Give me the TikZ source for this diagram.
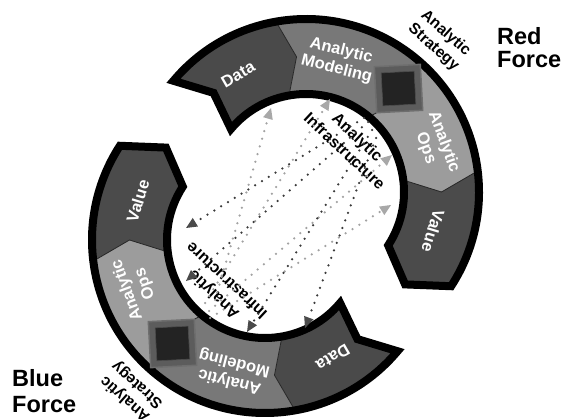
\documentclass[tikz,border=0pt]{standalone}
\usepackage{fontspec}
\setmainfont{Liberation Sans}
\usetikzlibrary{arrows.meta}

% segment and flow colours
\definecolor{datagray}{HTML}{4A4A4A}
\definecolor{modelgray}{HTML}{787878}
\definecolor{opsgray}{HTML}{9C9C9C}
\definecolor{valuegray}{HTML}{4B4B4B}
\definecolor{stratrim}{HTML}{5C5C5C}
\definecolor{stratedge}{HTML}{6E6E6E}
\definecolor{stratcore}{HTML}{232323}
\definecolor{dotdark}{HTML}{3A3A3A}
\definecolor{dotlight}{HTML}{A2A2A2}
\definecolor{tipdark}{HTML}{4A4A4A}
\definecolor{tiplight}{HTML}{A8A8A8}

% ring radii (centre line of the black border)
\newcommand\ringIn{98}
\newcommand\ringOut{173}
\newcommand\ringMid{135.5}

\tikzset{
  seglabel/.style={text=white, font=\fontsize{16.5}{19}\selectfont\bfseries,
    align=center, inner sep=0pt, transform shape},
  sidelabel/.style={text=black, font=\fontsize{15.5}{18.5}\selectfont\bfseries,
    align=center, inner sep=0pt, transform shape},
  infralabel/.style={text=black, font=\fontsize{16}{19}\selectfont\bfseries,
    align=center, inner sep=0pt, transform shape},
  forcelabel/.style={text=black, font=\fontsize{23.5}{24}\selectfont\bfseries,
    inner sep=0pt, anchor=base west},
  segline/.style={draw=black!85, line width=0.8pt},
  ringborder/.style={draw=black, line width=8pt, line join=miter, miter limit=6},
  stratouter/.style={draw=stratedge, line width=1.5pt, fill=stratrim,
    minimum size=46pt, inner sep=0pt, rotate=3, transform shape},
  stratinner/.style={draw=black!70, line width=0.6pt, fill=stratcore,
    minimum size=33pt, inner sep=0pt, rotate=3, transform shape},
  darkflow/.style={draw=dotdark, line width=2.5pt, line cap=round,
    dash pattern=on 0pt off 8pt,
    -{Triangle[length=11pt,width=10pt,line width=0pt,color=tipdark]}},
  lightflow/.style={draw=dotlight, line width=2.5pt, line cap=round,
    dash pattern=on 0pt off 8pt,
    -{Triangle[length=11pt,width=10pt,line width=0pt,color=tiplight]}},
  forcering/.pic={
    % segment fills, clockwise from the swallow-tail end to the arrow head
    \fill[datagray] (140:\ringOut) arc[start angle=140,end angle=100,radius=\ringOut]
      -- (94:\ringMid) -- (100:\ringIn) arc[start angle=100,end angle=140,radius=\ringIn]
      -- (133:\ringMid) -- cycle;
    \fill[modelgray] (100:\ringOut) arc[start angle=100,end angle=50,radius=\ringOut]
      -- (44:\ringMid) -- (50:\ringIn) arc[start angle=50,end angle=100,radius=\ringIn]
      -- (94:\ringMid) -- cycle;
    \fill[opsgray] (50:\ringOut) arc[start angle=50,end angle=7,radius=\ringOut]
      -- (0:\ringMid) -- (7:\ringIn) arc[start angle=7,end angle=50,radius=\ringIn]
      -- (44:\ringMid) -- cycle;
    \fill[valuegray] (7:\ringOut) arc[start angle=7,end angle=-33,radius=\ringOut]
      -- (-43:\ringMid) -- (-33:\ringIn) arc[start angle=-33,end angle=7,radius=\ringIn]
      -- (0:\ringMid) -- cycle;
    % chevron seams between segments
    \draw[segline] (100:\ringOut) -- (94:\ringMid) -- (100:\ringIn);
    \draw[segline] (50:\ringOut) -- (44:\ringMid) -- (50:\ringIn);
    \draw[segline] (7:\ringOut) -- (0:\ringMid) -- (7:\ringIn);
    % heavy outline of the whole arrow ring
    \draw[ringborder] (140:\ringOut) arc[start angle=140,end angle=-33,radius=\ringOut]
      -- (-43:\ringMid) -- (-33:\ringIn) arc[start angle=-33,end angle=140,radius=\ringIn]
      -- (133:\ringMid) -- cycle;
    % strategy marker
    \node[stratouter] (-strat) at (48.2:138.8) {};
    \node[stratinner] (-stratcore) at (48.2:138.8) {};
    % segment names
    \node[seglabel, rotate=30] (-data) at (120:136) {Data};
    \node[seglabel, rotate=-14] (-model) at (76:136) {Analytic\\Modeling};
    \node[seglabel, rotate=-70] (-ops) at (20:137) {Analytic\\Ops};
    \node[seglabel, rotate=-107] (-value) at (-17:133) {Value};
    \node[sidelabel, rotate=-41.4] (-strategy) at (48.6:202) {Analytic\\Strategy};
    \node[infralabel, rotate=-43] (-infra) at (46.8:66) {Analytic\\Infrastructure};
  }
}

\begin{document}
\begin{tikzpicture}[x=1pt,y=1pt]
\useasboundingbox (0,0) rectangle (562,418);

% the two opposing rings
\pic (red) at (306,226) {forcering};
\pic[rotate=180] (blue) at (265,178) {forcering};

% flow end points: red infrastructure -> blue segments
\coordinate (rsrc1) at (364,300);
\coordinate (rsrc2) at (368,296);
\coordinate (rsrc3) at (372,288);
\coordinate (rsrc4) at (376,280);
\coordinate (bvalue) at (186,190);
\coordinate (bops) at (186,137);
\coordinate (bmodel) at (247,86);
\coordinate (bdata) at (305,90);
% blue infrastructure -> red segments
\coordinate (bsrc1) at (210,100);
\coordinate (bsrc2) at (209,107);
\coordinate (bsrc3) at (205,115);
\coordinate (bsrc4) at (215,118);
\coordinate (rvalue) at (391,213);
\coordinate (rops) at (392,263);
\coordinate (rmodel) at (330,319);
\coordinate (rdata) at (271,310);

\draw[lightflow] (bsrc1) -- (rvalue);
\draw[lightflow] (bsrc2) -- (rops);
\draw[lightflow] (bsrc3) -- (rmodel);
\draw[lightflow] (bsrc4) -- (rdata);
\draw[darkflow] (rsrc1) -- (bvalue);
\draw[darkflow] (rsrc2) -- (bops);
\draw[darkflow] (rsrc3) -- (bmodel);
\draw[darkflow] (rsrc4) -- (bdata);

% side titles
\node[forcelabel] (redt1) at (497,373) {Red};
\node[forcelabel] (redt2) at (497,350) {Force};
\node[forcelabel] (bluet1) at (12,32) {Blue};
\node[forcelabel] (bluet2) at (12,6) {Force};
\end{tikzpicture}
\end{document}
